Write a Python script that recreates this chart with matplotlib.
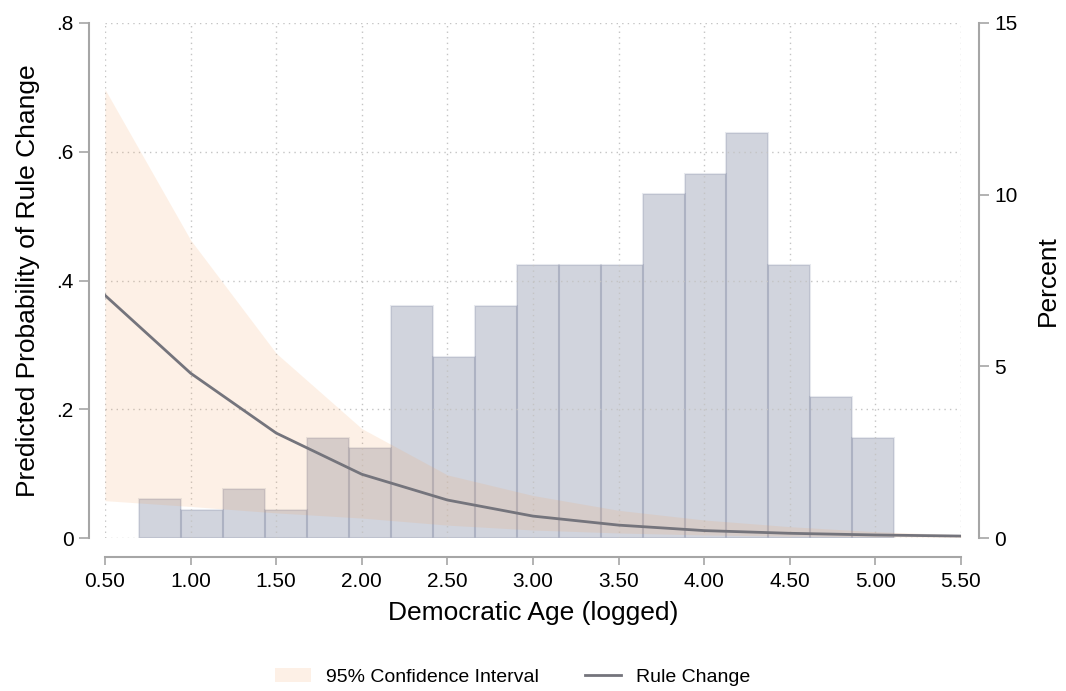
import numpy as np
import matplotlib
matplotlib.use("Agg")
import matplotlib.pyplot as plt
from matplotlib.patches import Patch
from matplotlib.lines import Line2D

plt.rcParams['font.family'] = ['Liberation Sans', 'DejaVu Sans']

# ---- data ----
age_points = [0.5, 1.0, 1.5, 2.0, 2.5, 3.0, 3.5, 4.0, 4.5, 5.0, 5.5]
pred_prob = [0.377, 0.256, 0.163, 0.099, 0.059, 0.034, 0.020, 0.0115, 0.0073, 0.0047, 0.003]
ci_upper = [0.697, 0.463, 0.287, 0.170, 0.098, 0.066, 0.043, 0.028, 0.0176, 0.0098, 0.005]
ci_lower = [0.058, 0.049, 0.039, 0.031, 0.020, 0.0124, 0.0078, 0.0047, 0.003, 0.002, 0.001]

hist_start = 0.70
hist_width = 0.245
hist_percent = [1.13, 0.82, 1.43, 0.82, 2.92, 2.63, 6.77, 5.28, 6.77, 7.96,
                7.96, 7.96, 10.02, 10.60, 11.81, 7.96, 4.10, 2.91]

x_ticks = [0.5, 1.0, 1.5, 2.0, 2.5, 3.0, 3.5, 4.0, 4.5, 5.0, 5.5]
x_ticklabels = ["0.50", "1.00", "1.50", "2.00", "2.50", "3.00", "3.50", "4.00", "4.50", "5.00", "5.50"]
y_ticks = [0, 0.2, 0.4, 0.6, 0.8]
y_ticklabels = ["0", ".2", ".4", ".6", ".8"]
y2_ticks = [0, 5, 10, 15]
y2_ticklabels = ["0", "5", "10", "15"]

# ---- figure ----
W, H = 1066, 691
fig = plt.figure(figsize=(W / 100, H / 100), dpi=100)
ax = fig.add_axes([105 / W, 1 - 538 / H, (961 - 105) / W, (538 - 23) / H])
ax2 = ax.twinx()
ax.set_zorder(ax2.get_zorder() + 1)
ax.patch.set_visible(False)

spine_col = '#a6a6a6'
grid_col = '#c4c4c4'
line_col = '#74747c'
ci_col = '#f5a05a'

# histogram on right axis
n = len(hist_percent)
lefts = hist_start + hist_width * np.arange(n)
ax2.bar(lefts, hist_percent, width=hist_width, align='edge',
        color=(0.10, 0.16, 0.35, 0.20), edgecolor=(0.10, 0.16, 0.35, 0.10),
        linewidth=1.5, zorder=1)
ax2.set_ylim(0, 15)
ax2.set_yticks(y2_ticks)
ax2.set_yticklabels(y2_ticklabels)
ax2.set_ylabel("Percent", fontsize=19, labelpad=13)

# CI + line on left axis
ax.fill_between(age_points, ci_lower, ci_upper, color=ci_col, alpha=0.15,
                linewidth=0, zorder=2)
ax.plot(age_points, pred_prob, color=line_col, lw=2, zorder=3)

ax.set_xlim(0.5, 5.5)
ax.set_ylim(0, 0.8)
ax.set_xticks(x_ticks)
ax.set_xticklabels(x_ticklabels)
ax.set_yticks(y_ticks)
ax.set_yticklabels(y_ticklabels)
ax.set_xlabel("Democratic Age (logged)", fontsize=19, labelpad=7)
ax.set_ylabel("Predicted Probability of Rule Change", fontsize=19, labelpad=12)

ax.grid(True, linestyle=(0, (1, 3)), color=grid_col, lw=1)
ax.set_axisbelow(True)

ax.spines['top'].set_visible(False)
ax2.spines['top'].set_visible(False)
ax.spines['right'].set_visible(False)
ax2.spines['left'].set_visible(False)
ax2.spines['bottom'].set_visible(False)

ax.spines['left'].set_position(('outward', 11.5))
ax.spines['bottom'].set_position(('outward', 13.5))
ax2.spines['right'].set_position(('outward', 13))
for a, s in ((ax, 'left'), (ax, 'bottom'), (ax2, 'right')):
    a.spines[s].set_color(spine_col)
    a.spines[s].set_linewidth(1.5)

ax.tick_params(axis='y', colors=spine_col, labelcolor='black', labelsize=15,
               length=7, width=1.2, pad=4)
ax.tick_params(axis='x', colors=spine_col, labelcolor='black', labelsize=15,
               length=6, width=1.2, pad=5)
ax2.tick_params(axis='y', colors=spine_col, labelcolor='black', labelsize=15,
                length=7, width=1.2, pad=4)

# legend
handles = [Patch(facecolor=ci_col, alpha=0.15, edgecolor='none'),
           Line2D([0], [0], color=line_col, lw=2)]
fig.legend(handles, ["95% Confidence Interval", "Rule Change"],
           loc='center', bbox_to_anchor=(512.5 / W, 1 - 677 / H), ncol=2,
           frameon=False, fontsize=14, handlelength=1.85, columnspacing=2.4,
           handletextpad=0.75)

fig.savefig("out.png", dpi=100)
